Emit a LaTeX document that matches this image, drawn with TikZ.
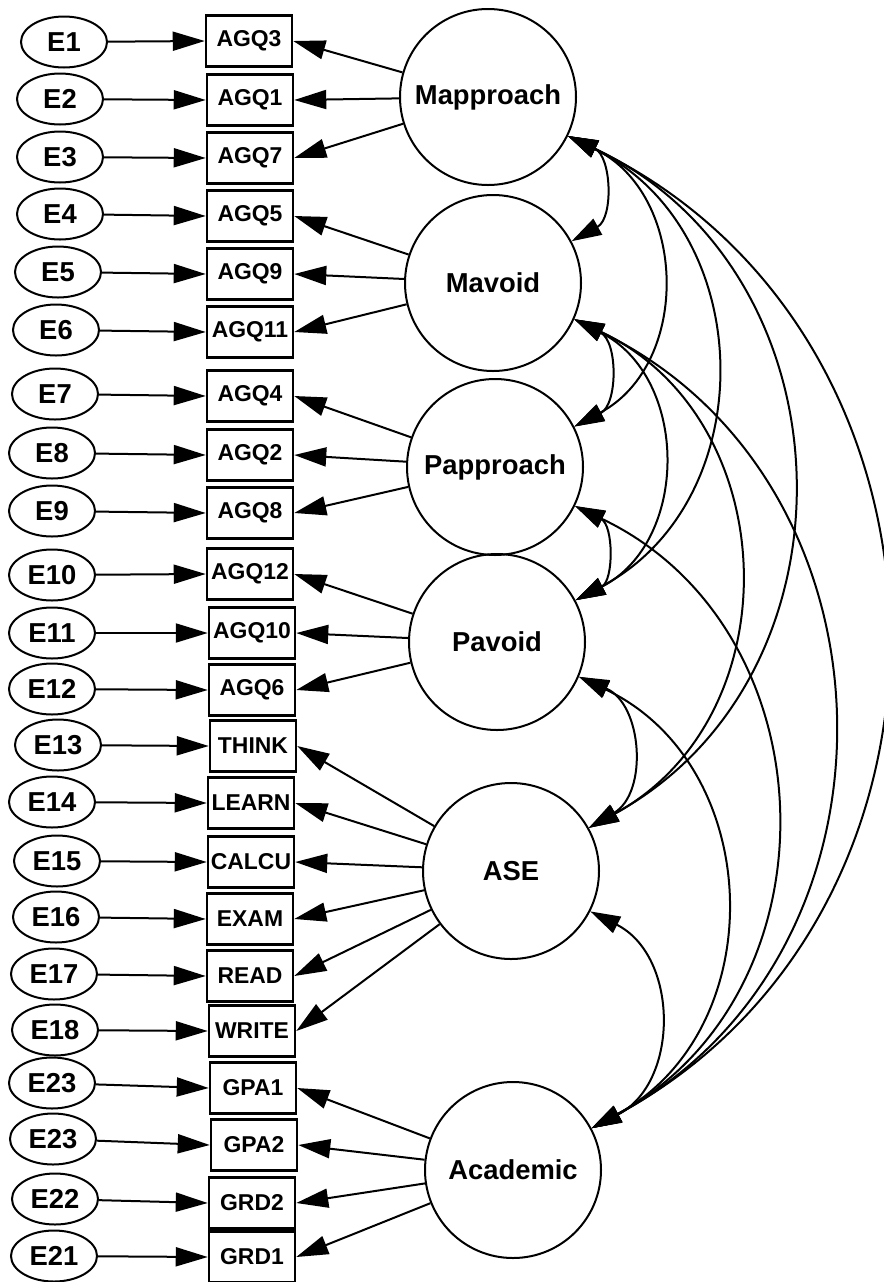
\documentclass[tikz,border=0pt]{standalone}
\usepackage{fontspec}
\setmainfont{Liberation Sans}
\usetikzlibrary{arrows.meta,shapes.geometric}
\begin{document}
\begin{tikzpicture}[x=1bp,y=-1bp,
  lat/.style={circle,draw,line width=2bp,minimum size=176bp,inner sep=0pt,font=\fontsize{27.5}{30}\selectfont\bfseries},
  obs/.style={rectangle,draw,line width=2.5bp,minimum width=86bp,minimum height=51bp,inner sep=0pt,font=\fontsize{23}{26}\selectfont\bfseries},
  err/.style={ellipse,draw,line width=2bp,minimum width=86bp,minimum height=51bp,inner sep=0pt,font=\fontsize{27.5}{30}\selectfont\bfseries},
  load/.style={line width=2bp,-{Triangle[length=32bp,width=19bp]}},
  cov/.style={line width=2bp,{Triangle[length=30bp,width=18bp]}-{Triangle[length=30bp,width=18bp]},bend left=63,looseness=1.17}
]
\useasboundingbox (0,0) rectangle (884,1282);

% latent factors
\node[lat] (Map) at (488,97)  {Mapproach};
\node[lat] (Mav) at (493,283) {Mavoid};
\node[lat] (Pap) at (495,467) {Papproach};
\node[lat] (Pav) at (497,642) {Pavoid};
\node[lat] (ASE) at (511,871) {ASE};
\node[lat] (Aca) at (513,1170) {Academic};

% errors, indicators and their arrows
\foreach \i/\ex/\ey/\el/\bx/\by/\bl in {
  1/64/42/E1/249/41/AGQ3,
  2/60/99/E2/250/100/AGQ1,
  3/60/157/E3/250/158/AGQ7,
  4/60/214/E4/250/216/AGQ5,
  5/58/272/E5/250/274/AGQ9,
  6/56/330/E6/250/332/AGQ11,
  7/55/394/E7/250/396/AGQ4,
  8/52/453/E8/250/455/AGQ2,
  9/52/511/E9/250/513/AGQ8,
  10/52/575/E10/250/574/AGQ12,
  11/52/633/E11/252/633/AGQ10,
  12/52/689/E12/252/690/AGQ6,
  13/58/745/E13/253/746/THINK,
  14/52/802/E14/251/803/LEARN,
  15/57/861/E15/251/862/CALCU,
  16/56/917/E16/250/919/EXAM,
  17/54/974/E17/250/976/READ,
  18/55/1030/E18/252/1031/WRITE,
  19/52/1083/E23/253/1088/GPA1,
  20/53/1139/E23/254/1145/GPA2,
  21/55/1199/E22/252/1203/GRD2,
  22/54/1256/E21/252/1257/GRD1}{
  \node[err] (e\i) at (\ex,\ey) {\el};
  \node[obs] (b\i) at (\bx,\by) {\bl};
  \draw[load] (e\i) -- (b\i.west);
}

% loadings
\foreach \i in {1,2,3}{\draw[load] (Map) -- (b\i.east);}
\foreach \i in {4,5,6}{\draw[load] (Mav) -- (b\i.east);}
\foreach \i in {7,8,9}{\draw[load] (Pap) -- (b\i.east);}
\foreach \i in {10,11,12}{\draw[load] (Pav) -- (b\i.east);}
\foreach \i in {13,...,18}{\draw[load] (ASE) -- (b\i.east);}
\foreach \i in {19,...,22}{\draw[load] (Aca) -- (b\i.east);}

% covariance anchor points
\coordinate (MapO) at (Map.-26);
\coordinate (MavI) at (Mav.28);
\coordinate (MavO) at (Mav.-24);
\coordinate (PapI) at (Pap.27);
\coordinate (PapO) at (Pap.-26);
\coordinate (PavI) at (Pav.28);
\coordinate (PavO) at (Pav.-23);
\coordinate (ASEI) at (ASE.29);
\coordinate (ASEO) at (ASE.-27);
\coordinate (AcaI) at (Aca.28);

% covariances
\draw[cov] (MapO) to (MavI);
\draw[cov] (MapO) to (PapI);
\draw[cov] (MapO) to (PavI);
\draw[cov] (MapO) to (ASEI);
\draw[cov] (MapO) to (AcaI);
\draw[cov] (MavO) to (PapI);
\draw[cov] (MavO) to (PavI);
\draw[cov] (MavO) to (ASEI);
\draw[cov] (MavO) to (AcaI);
\draw[cov] (PapO) to (PavI);
\draw[cov] (PapO) to (AcaI);
\draw[cov] (PavO) to (ASEI);
\draw[cov] (PavO) to (AcaI);
\draw[cov] (ASEO) to (AcaI);
\end{tikzpicture}
\end{document}
